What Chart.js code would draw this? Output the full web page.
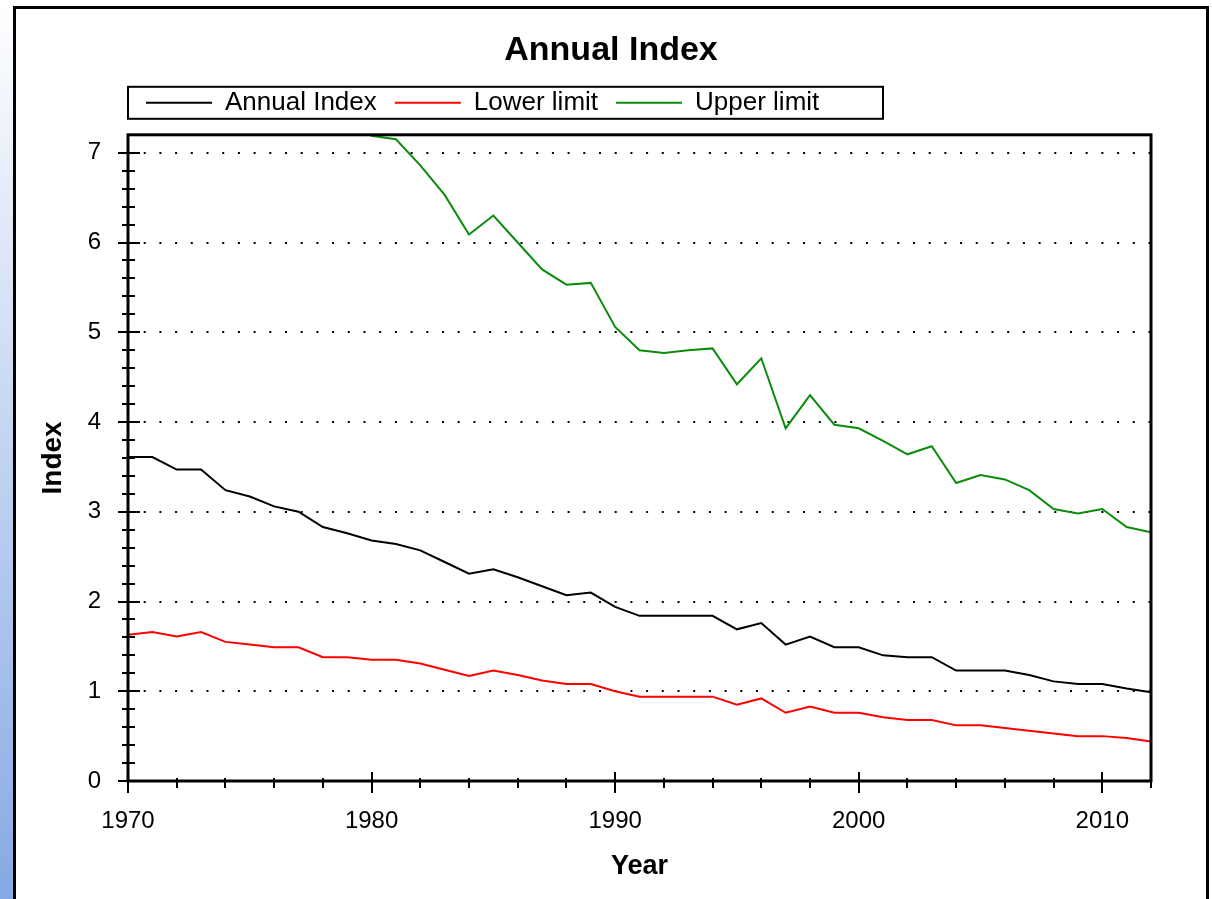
<!DOCTYPE html>
<html>
<head>
<meta charset="utf-8">
<title>Annual Index</title>
<script src="https://cdn.jsdelivr.net/npm/chart.js@4.4.1/dist/chart.umd.min.js"></script>
<style>
  html, body { margin: 0; padding: 0; background: #fff; }
  body { width: 1212px; height: 899px; position: relative; overflow: hidden; }
  #edge { position: absolute; left: 0; top: 0; width: 13px; height: 899px; background: linear-gradient(#ffffff, #86a9e4); }
  #frame { position: absolute; left: 13px; top: 6px; width: 1190px; height: 900px; border: 3px solid #000; border-bottom: none; }
  #wrap { position: absolute; left: 0; top: 0; width: 1212px; height: 899px; }
</style>
</head>
<body>
<div id="edge"></div>
<div id="frame"></div>
<div id="wrap"><canvas id="indexChart"></canvas></div>
<script>
// values
const years = [1970, 1971, 1972, 1973, 1974, 1975, 1976, 1977, 1978, 1979,
               1980, 1981, 1982, 1983, 1984, 1985, 1986, 1987, 1988, 1989,
               1990, 1991, 1992, 1993, 1994, 1995, 1996, 1997, 1998, 1999,
               2000, 2001, 2002, 2003, 2004, 2005, 2006, 2007, 2008, 2009,
               2010, 2011, 2012];
const annualIndex = [3.61, 3.61, 3.47, 3.47, 3.24, 3.17, 3.06, 3.00, 2.83, 2.76,
                     2.68, 2.64, 2.57, 2.44, 2.31, 2.36, 2.27, 2.17, 2.07, 2.10,
                     1.94, 1.84, 1.84, 1.84, 1.84, 1.69, 1.76, 1.52, 1.61, 1.49,
                     1.49, 1.40, 1.38, 1.38, 1.23, 1.23, 1.23, 1.18, 1.11, 1.08,
                     1.08, 1.03, 0.99];
const lowerLimit = [1.63, 1.66, 1.61, 1.66, 1.55, 1.52, 1.49, 1.49, 1.38, 1.38,
                    1.35, 1.35, 1.31, 1.24, 1.17, 1.23, 1.18, 1.12, 1.08, 1.08,
                    1.00, 0.94, 0.94, 0.94, 0.94, 0.85, 0.92, 0.76, 0.83, 0.76,
                    0.76, 0.71, 0.68, 0.68, 0.62, 0.62, 0.59, 0.56, 0.53, 0.50,
                    0.50, 0.48, 0.44];
// 1970-1979 lie above the top of the plot (estimated, clipped)
const upperLimit = [9.6, 9.6, 9.2, 9.2, 8.6, 8.4, 8.2, 8.0, 7.6, 7.4,
                    7.19, 7.15, 6.86, 6.53, 6.09, 6.30, 6.00, 5.70, 5.53, 5.55,
                    5.06, 4.80, 4.77, 4.80, 4.82, 4.42, 4.71, 3.93, 4.30, 3.97,
                    3.93, 3.79, 3.64, 3.73, 3.32, 3.41, 3.36, 3.24, 3.03, 2.98,
                    3.03, 2.83, 2.77];
const xTickLabels = [1970, 1980, 1990, 2000, 2010];
const yTickLabels = [0, 1, 2, 3, 4, 5, 6, 7];

const FONT = '"Liberation Sans", Arial, sans-serif';

function points(values) {
    return years.map((yr, i) => ({ x: yr, y: values[i] }));
}

function isWhole(v) {
    return Math.abs(v - Math.round(v)) < 1e-6;
}

// empty layout box used to leave a gap
function gapBox(position, size, weight) {
    return {
        position: position, weight: weight, fullSize: false, options: {},
        top: 0, left: 0, right: 0, bottom: 0, width: 0, height: 0,
        isHorizontal() { return position === 'top' || position === 'bottom'; },
        update(maxWidth, maxHeight) {
            if (this.isHorizontal()) { this.width = maxWidth; this.height = size; }
            else { this.width = size; this.height = maxHeight; }
        },
        draw() {}
    };
}

const gaps = {
    id: 'gaps',
    beforeInit(chart) {
        Chart.layouts.addBox(chart, gapBox('top', 9, 500));
        Chart.layouts.addBox(chart, gapBox('right', 51, 0));
    }
};

// tick marks crossing the axes, plot frame and legend frame
const axisMarks = {
    id: 'axisMarks',
    afterDraw(chart) {
        const { ctx, chartArea: ca, scales: { x, y } } = chart;
        ctx.save();
        ctx.strokeStyle = '#000';
        ctx.lineWidth = 2;
        ctx.beginPath();
        y.ticks.forEach(t => {
            if (t.value > 7.1) return;
            const py = Math.round(y.getPixelForValue(t.value));
            const major = isWhole(t.value);
            ctx.moveTo(ca.left - (major ? 10 : 6), py);
            ctx.lineTo(ca.left + (major ? 12 : 7), py);
        });
        x.ticks.forEach(t => {
            const px = Math.round(x.getPixelForValue(t.value));
            const major = xTickLabels.includes(t.value);
            ctx.moveTo(px, ca.bottom - (major ? 9 : 3));
            ctx.lineTo(px, ca.bottom + (major ? 12 : 7));
        });
        ctx.stroke();
        ctx.lineWidth = 3;
        ctx.strokeRect(ca.left, ca.top, ca.right - ca.left, ca.bottom - ca.top);
        const lg = chart.legend;
        if (lg && lg.legendHitBoxes && lg.legendHitBoxes.length) {
            const hb = lg.legendHitBoxes[0];
            ctx.lineWidth = 2;
            ctx.strokeRect(ca.left, hb.top - 3, 755, 32);
        }
        ctx.restore();
    }
};

const ctx = document.getElementById('indexChart').getContext('2d');
new Chart(ctx, {
    type: 'line',
    data: {
        datasets: [
            { label: 'Annual Index', data: points(annualIndex), borderColor: '#000000', backgroundColor: '#000000', borderWidth: 2 },
            { label: 'Lower limit', data: points(lowerLimit), borderColor: '#ff0000', backgroundColor: '#ff0000', borderWidth: 2 },
            { label: 'Upper limit', data: points(upperLimit), borderColor: '#0c8c0c', backgroundColor: '#0c8c0c', borderWidth: 2 }
        ]
    },
    options: {
        responsive: true,
        maintainAspectRatio: false,
        devicePixelRatio: 1,
        animation: false,
        events: [],
        layout: { padding: { left: 20, right: 10, top: 0, bottom: 0 } },
        elements: {
            line: { borderWidth: 2, tension: 0 },
            point: { radius: 0 }
        },
        plugins: {
            title: {
                display: true,
                text: 'Annual Index',
                color: '#000',
                font: { family: FONT, size: 34, weight: 'bold' },
                padding: { top: 30, bottom: 1 }
            },
            legend: {
                position: 'top',
                align: 'start',
                fullSize: false,
                labels: {
                    color: '#000',
                    font: { family: FONT, size: 26 },
                    usePointStyle: true,
                    pointStyle: 'line',
                    pointStyleWidth: 66,
                    padding: 18
                }
            },
            tooltip: { enabled: false }
        },
        scales: {
            x: {
                type: 'linear',
                min: 1970,
                max: 2012,
                grid: { display: false },
                border: { display: false },
                afterFit(scale) { scale.height = 118; },
                ticks: {
                    stepSize: 2,
                    autoSkip: false,
                    maxRotation: 0,
                    padding: 18,
                    color: '#000',
                    font: { family: FONT, size: 24 },
                    callback: v => xTickLabels.includes(v) ? String(v) : ''
                },
                title: {
                    display: true,
                    text: 'Year',
                    color: '#000',
                    font: { family: FONT, size: 27, weight: 'bold' },
                    padding: { top: 0, bottom: 16 }
                }
            },
            y: {
                min: 0,
                max: 7.2,
                afterFit(scale) { scale.width = 108; },
                grid: {
                    drawTicks: false,
                    lineWidth: 2,
                    color: c => (c.tick && isWhole(c.tick.value) && c.tick.value > 0.5 && c.tick.value < 7.1) ? '#000' : 'rgba(0,0,0,0)'
                },
                border: { display: false, dash: [2, 13.7] },
                ticks: {
                    stepSize: 0.2,
                    autoSkip: false,
                    padding: 27,
                    color: '#000',
                    font: { family: FONT, size: 24 },
                    callback: v => (isWhole(v) && yTickLabels.includes(Math.round(v))) ? String(Math.round(v)) : ''
                },
                title: {
                    display: true,
                    text: 'Index',
                    color: '#000',
                    font: { family: FONT, size: 28, weight: 'bold' },
                    padding: { top: 16, bottom: 0 }
                }
            }
        }
    },
    plugins: [gaps, axisMarks]
});
</script>
</body>
</html>
